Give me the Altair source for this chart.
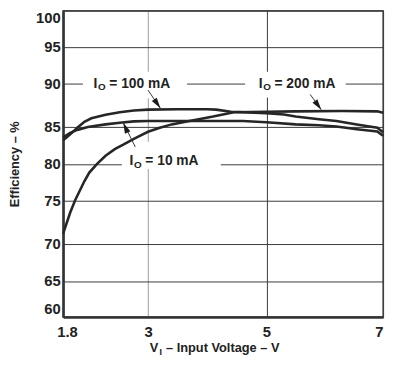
import altair as alt
import pandas as pd

# ---- data ----
x_ticks = [1.8, 3, 5, 7]
y_ticks = [60, 65, 70, 75, 80, 85, 90, 95, 100]

v_100 = [1.8, 1.9, 2.0, 2.1, 2.2, 2.4, 2.6, 2.8, 3.0, 3.5, 4.0, 4.15, 4.4, 5.0, 5.3, 5.5, 5.9, 6.2, 6.55, 6.9, 7.0]
eff_100 = [83.2, 84.0, 84.9, 85.6, 86.0, 86.4, 86.7, 86.9, 87.0, 87.05, 87.05, 87.0, 86.75, 86.6, 86.45, 86.2, 85.9, 85.7, 85.3, 84.9, 84.3]

v_10 = [1.8, 1.9, 2.0, 2.15, 2.4, 2.6, 2.8, 3.0, 3.5, 4.0, 4.6, 5.0, 5.5, 5.9, 6.2, 6.55, 6.9, 7.0]
eff_10 = [83.6, 84.2, 84.6, 85.0, 85.3, 85.5, 85.65, 85.7, 85.7, 85.7, 85.7, 85.55, 85.3, 85.2, 85.05, 84.7, 84.4, 83.8]

v_200 = [1.8, 1.9, 1.97, 2.1, 2.17, 2.28, 2.4, 2.53, 2.65, 2.8, 3.0, 3.2, 3.4, 3.7, 4.1, 4.45, 5.0, 5.5, 6.3, 6.9, 7.0]
eff_200 = [71.2, 73.6, 75.0, 77.6, 78.8, 80.0, 81.1, 82.0, 82.6, 83.4, 84.35, 84.9, 85.3, 85.7, 86.2, 86.7, 86.75, 86.8, 86.85, 86.8, 86.65]

# annotations
label_rest = ["= 100 mA", "= 200 mA", "= 10 mA"]
label_x = [2.23, 4.87, 2.74]
label_y = [90.0, 90.0, 80.4]

box_x = [2.08, 4.64, 2.63]
box_x2 = [3.66, 6.36, 4.23]
box_y = [88.3, 88.4, 79.3]
box_y2 = [91.6, 91.6, 83.0]

lead_x = [3.0, 5.75, 2.82]
lead_y = [89.25, 88.75, 82.3]
tip_x = [3.21, 5.94, 2.65]
tip_y = [87.15, 86.99, 85.5]
tip_angle = [145.5, 144.2, 336.0]

FONT = "Liberation Sans"
INK = "#222222"

curves = pd.concat([
    pd.DataFrame({"x": v_100, "y": eff_100, "s": "100"}),
    pd.DataFrame({"x": v_10, "y": eff_10, "s": "10"}),
    pd.DataFrame({"x": v_200, "y": eff_200, "s": "200"}),
])
boxes = pd.DataFrame({"x": box_x, "x2": box_x2, "y": box_y, "y2": box_y2})
leads = pd.DataFrame({"x": lead_x, "y": lead_y, "x2": tip_x, "y2": tip_y})
tips = pd.DataFrame({"x": tip_x, "y": tip_y, "ang": tip_angle})
labels = pd.DataFrame({"x": label_x, "y": label_y, "main": "I", "sub": "O", "rest": label_rest})
xtitle = pd.DataFrame({"x": [3.03], "main": ["V"], "sub": ["I"], "rest": ["– Input Voltage – V"]})

W, H = 325, 311
xs = alt.Scale(domain=x_ticks, range=[0, 86.2, 206.5, W])
y_frac = [1.0, 0.883, 0.762, 0.619, 0.5, 0.3796, 0.238, 0.118, 0.0]
ys = alt.Scale(domain=y_ticks, range=[round(f * H, 1) for f in y_frac])

x_axis = alt.Axis(
    values=x_ticks, labelExpr="toString(datum.value)", title=None, ticks=False, labelPadding=8,
    labelFontSize=15, labelFontWeight="bold",
    labelAlign={"condition": {"test": "datum.value >= 7", "value": "right"}, "value": "center"},
    labelOffset={"condition": {"test": "datum.value < 2", "value": 4}, "value": 0},
    gridColor={"condition": {"test": "datum.value == 3", "value": "#9a9a9a"}, "value": "#3a3a3a"},
    domainWidth=2.5, domainColor="#333333",
)
y_axis = alt.Axis(
    values=y_ticks, format="d", title="Efficiency – %", titleFontSize=13,
    titleFontWeight="bold", titlePadding=14, labelFlush=True, ticks=False,
    labelPadding=3, labelFontSize=15, labelFontWeight="bold",
    gridColor="#3a3a3a", domainWidth=2.5, domainColor="#333333",
)

X = alt.X("x:Q", scale=xs, axis=x_axis)
Y = alt.Y("y:Q", scale=ys, axis=y_axis)

rects = alt.Chart(boxes).mark_rect(color="white").encode(x=X, x2="x2:Q", y=Y, y2="y2:Q")

lines = alt.Chart(curves).mark_line(color="#262626", strokeWidth=2.6).encode(
    x=X, y=Y, detail="s:N",
)

rules = alt.Chart(leads).mark_rule(color="#333333", strokeWidth=1).encode(
    x=X, x2="x2:Q", y=Y, y2="y2:Q",
)

heads = alt.Chart(tips).mark_point(
    shape="M0,0L0.55,2L-0.55,2Z", filled=True, size=121, color="#1a1a1a", opacity=1, strokeWidth=0
).encode(x=X, y=Y, angle=alt.Angle("ang:Q", scale=None))

def txt(size, dx=0, dy=0):
    return dict(align="left", baseline="middle", font=FONT, fontWeight="bold",
                fontSize=size, dx=dx, dy=dy, color=INK)

lab_base = alt.Chart(labels).encode(x=X, y=Y)
lab1 = lab_base.mark_text(**txt(14)).encode(text="main:N")
lab2 = lab_base.mark_text(**txt(10, 4.5, 4)).encode(text="sub:N")
lab3 = lab_base.mark_text(**txt(14, 16)).encode(text="rest:N")

xt_base = alt.Chart(xtitle).encode(x=X, y=alt.value(343))
xt1 = xt_base.mark_text(**txt(13)).encode(text="main:N")
xt2 = xt_base.mark_text(**txt(9, 10, 4)).encode(text="sub:N")
xt3 = xt_base.mark_text(**txt(13, 16.5)).encode(text="rest:N")

chart = alt.layer(
    rects, lines, rules, heads, lab1, lab2, lab3, xt1, xt2, xt3
).properties(
    width=W, height=H, padding={"left": 0, "top": 0, "right": 0, "bottom": 0}
).configure_view(
    stroke="#4a4a4a", strokeWidth=1.5
).configure_axis(
    labelFont=FONT, titleFont=FONT, labelColor=INK, titleColor=INK, gridWidth=1
)

chart.save("out.html", embed_options={"renderer": "svg", "actions": False})
